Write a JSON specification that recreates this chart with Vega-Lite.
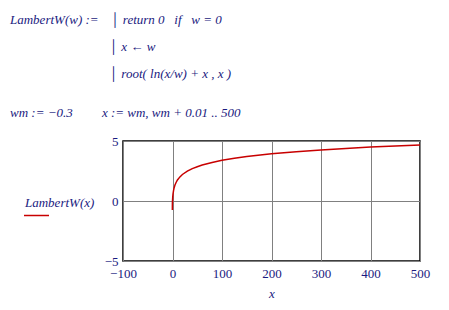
{
  "$schema": "https://vega.github.io/schema/vega-lite/v6.json",
  "autosize": "none",
  "width": 297,
  "height": 120,
  "padding": {"top": 141, "left": 123, "right": 29, "bottom": 49},
  "background": "white",
  "title": {
    "text": ["LambertW(w) :=\u2002\u2002\u2502 return 0\u2002 if\u2002 w = 0", "\u200b\u2003\u2003\u2003\u2003\u2003\u2003\u2003\u2002\u2009\u2502 x \u2190 w", "\u200b\u2003\u2003\u2003\u2003\u2003\u2003\u2003\u2002\u2009\u2502 root( ln(x/w) + x , x )"],
    "subtitle": "wm := \u22120.3\u2003\u2003 x := wm, wm + 0.01 .. 500",
    "anchor": "start",
    "frame": "group",
    "dx": -113,
    "dy": -3,
    "font": "Liberation Serif",
    "fontSize": 13,
    "fontStyle": "italic",
    "fontWeight": "normal",
    "color": "#1a1a80",
    "lineHeight": 27,
    "subtitleFont": "Liberation Serif",
    "subtitleFontSize": 13,
    "subtitleFontStyle": "italic",
    "subtitleColor": "#1a1a80",
    "subtitlePadding": 26,
    "offset": 12
  },
  "data": {
    "values": [
      {"x": -0.3, "w": -0.75},
      {"x": -0.2, "w": -0.26},
      {"x": -0.1, "w": -0.11},
      {"x": 0, "w": 0},
      {"x": 0.5, "w": 0.35},
      {"x": 1, "w": 0.57},
      {"x": 2, "w": 0.85},
      {"x": 3, "w": 1.05},
      {"x": 5, "w": 1.33},
      {"x": 7, "w": 1.52},
      {"x": 10, "w": 1.75},
      {"x": 15, "w": 2.01},
      {"x": 20, "w": 2.21},
      {"x": 30, "w": 2.49},
      {"x": 40, "w": 2.7},
      {"x": 50, "w": 2.86},
      {"x": 60, "w": 3.0},
      {"x": 70, "w": 3.11},
      {"x": 80, "w": 3.21},
      {"x": 100, "w": 3.39},
      {"x": 125, "w": 3.56},
      {"x": 150, "w": 3.7},
      {"x": 200, "w": 3.93},
      {"x": 250, "w": 4.11},
      {"x": 300, "w": 4.26},
      {"x": 350, "w": 4.38},
      {"x": 400, "w": 4.49},
      {"x": 450, "w": 4.59},
      {"x": 500, "w": 4.67}
    ]
  },
  "mark": {"type": "line", "strokeWidth": 1.5, "interpolate": "linear"},
  "encoding": {
    "x": {
      "field": "x",
      "type": "quantitative",
      "scale": {"domain": [-100, 500], "nice": false, "zero": false},
      "axis": {
        "values": [-100, 0, 100, 200, 300, 400, 500],
        "title": "x",
        "titleFont": "Liberation Serif",
        "titleFontSize": 13,
        "titleFontStyle": "italic",
        "titleFontWeight": "normal",
        "titleColor": "#1a1a80",
        "titlePadding": 7,
        "labelFont": "Liberation Serif",
        "labelFontSize": 13,
        "labelColor": "#1a1a80",
        "labelPadding": 6,
        "ticks": false,
        "domain": false,
        "grid": true,
        "gridColor": "#808080",
        "gridOpacity": 1,
        "labelFlush": false
      }
    },
    "y": {
      "field": "w",
      "type": "quantitative",
      "scale": {"domain": [-5, 5], "nice": false, "zero": false},
      "axis": {
        "values": [-5, 0, 5],
        "title": null,
        "labelFont": "Liberation Serif",
        "labelFontSize": 13,
        "labelColor": "#1a1a80",
        "labelPadding": 5,
        "ticks": false,
        "domain": false,
        "grid": true,
        "gridColor": "#808080",
        "gridOpacity": 1,
        "labelFlush": false
      }
    },
    "color": {
      "datum": "LambertW(x)",
      "type": "nominal",
      "scale": {"range": ["#c80000"]},
      "legend": {
        "orient": "none",
        "legendX": -98,
        "legendY": 56,
        "title": "LambertW(x)",
        "titleFont": "Liberation Serif",
        "titleFontSize": 13,
        "titleFontStyle": "italic",
        "titleFontWeight": "normal",
        "titleColor": "#1a1a80",
        "titlePadding": -8,
        "symbolType": "stroke",
        "symbolSize": 625,
        "symbolStrokeWidth": 1.5,
        "labelExpr": "''",
        "symbolOffset": -2
      }
    }
  },
  "config": {
    "view": {"stroke": "black", "strokeWidth": 1.5},
    "font": "Liberation Serif"
  }
}
